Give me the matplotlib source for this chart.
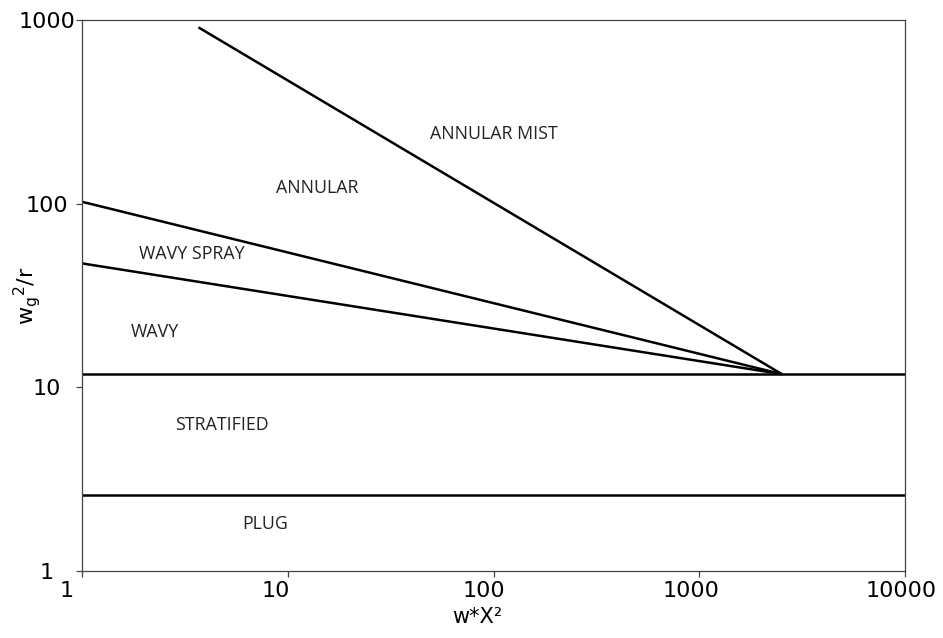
import numpy as np
import matplotlib.pyplot as plt
from matplotlib.ticker import FixedLocator, NullLocator
import matplotlib.transforms as mtrans

# boundary lines of the flow regime map
x_mist = [3.68, 2520]
y_mist = [912, 11.8]
x_annular = [1, 2520]
y_annular = [102.4, 11.8]
x_wavy = [1, 2520]
y_wavy = [47.3, 11.8]
x_strat = [1, 10000]
y_strat = [11.8, 11.8]
x_plug = [1, 10000]
y_plug = [2.59, 2.59]

# regime labels
regions = ['ANNULAR MIST', 'ANNULAR', 'WAVY SPRAY', 'WAVY', 'STRATIFIED', 'PLUG']
region_x = [100, 13.9, 3.42, 2.26, 4.8, 7.8]
region_y = [239, 121.6, 53.2, 20.0, 6.23, 1.80]

xticks = [1, 10, 100, 1000, 10000]
yticks = [1, 10, 100, 1000]

fig = plt.figure(figsize=(9.43, 6.38), dpi=100)
ax = fig.add_axes([82/943, 1 - 571/638, 823/943, 551/638])

for xs, ys in [(x_mist, y_mist), (x_annular, y_annular), (x_wavy, y_wavy),
               (x_strat, y_strat), (x_plug, y_plug)]:
    ax.plot(xs, ys, color='black', lw=1.8, solid_capstyle='butt')

for name, xx, yy in zip(regions, region_x, region_y):
    ax.text(xx, yy, name, ha='center', va='center', fontsize=12.8,
            family='Open Sans', color='#222222')

ax.set_xscale('log')
ax.set_yscale('log')
ax.set_xlim(1, 10000)
ax.set_ylim(1, 1000)
ax.xaxis.set_major_locator(FixedLocator(xticks))
ax.yaxis.set_major_locator(FixedLocator(yticks))
ax.xaxis.set_minor_locator(NullLocator())
ax.yaxis.set_minor_locator(NullLocator())
ax.set_xticklabels([str(t) for t in xticks])
ax.set_yticklabels([str(t) for t in yticks])

for sp in ax.spines.values():
    sp.set_color('#444444')
    sp.set_linewidth(0.9)
ax.tick_params(axis='both', length=4, width=0.9, color='#444444', labelsize=16)
ax.tick_params(axis='x', pad=3)
ax.tick_params(axis='y', pad=21.5)
for lab in ax.get_yticklabels():
    lab.set_horizontalalignment('center')

# x tick labels sit a bit left of their ticks in the original
x_shift = [-15, -12, -10, -8, -4]
for lab, dx in zip(ax.get_xticklabels(), x_shift):
    lab.set_transform(lab.get_transform() +
                      mtrans.ScaledTranslation(dx/100, 0, fig.dpi_scale_trans))

ax.set_xlabel('w*X\u00b2', fontsize=15)
ax.set_ylabel(r'$\mathregular{w_g{}^2/r}$', fontsize=16)
ax.xaxis.set_label_coords(0.48, -0.065)
ax.yaxis.set_label_coords(-0.047, 0.5)

fig.savefig('out.png', dpi=100)
